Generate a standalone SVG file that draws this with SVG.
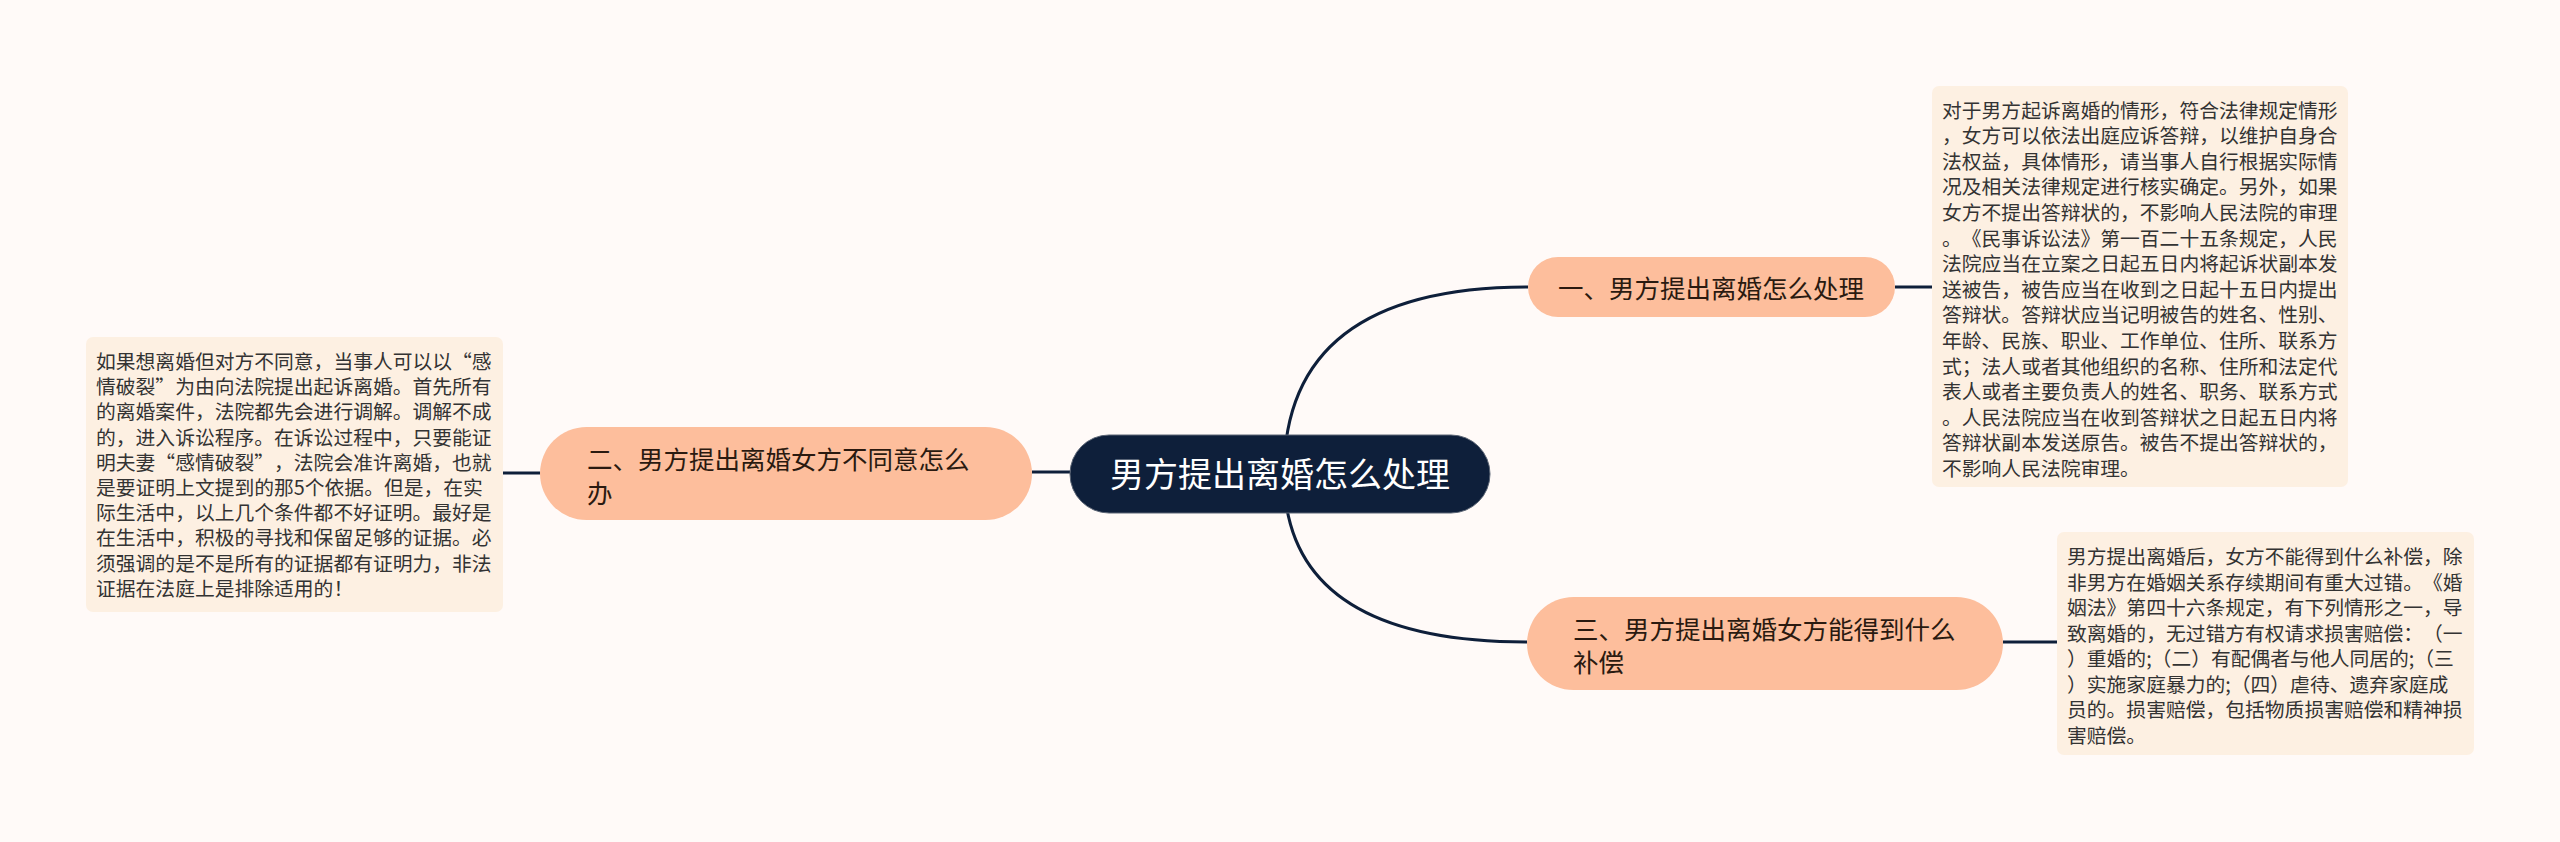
<svg xmlns="http://www.w3.org/2000/svg" width="2560" height="842" viewBox="0 0 2560 842">
<style>
text{text-spacing-trim:space-all}
.bg{fill:#fffaf8}
.conn{fill:none;stroke:#0e1f3a;stroke-width:3}
.root{fill:#0e1f3a;stroke:#5a6474;stroke-width:1}
.rootText{font-family:"Noto Sans CJK SC","Noto Sans",sans-serif;font-size:34px;fill:#ffffff}
.branch{fill:#fdbe9c}
.branchText{font-family:"Noto Sans CJK SC","Noto Sans",sans-serif;font-size:25.5px;fill:#2a1a10}
.note{fill:#fdf0e2}
.noteText{font-family:"Noto Sans CJK SC","Noto Sans",sans-serif;font-size:19.8px;fill:#333333}
</style>
<rect class="bg" x="0" y="0" width="2560" height="842"/>
<g id="connectors">
<path class="conn" d="M1284,474 Q1284,287 1528,287"/>
<path class="conn" d="M1284,474 Q1284,642 1527,642"/>
<path class="conn" d="M1070,472 L1032,472"/>
<path class="conn" d="M540,473 L503,473"/>
<path class="conn" d="M1895,287 L1932,287"/>
<path class="conn" d="M2003,642 L2057,642"/>
</g>
<g id="root">
<rect class="root" x="1070" y="435" width="420" height="78" rx="39"/>
<text class="rootText" x="1280" y="487" text-anchor="middle">男方提出离婚怎么处理</text>
</g>
<g id="branch1">
<rect class="branch" x="1528" y="257" width="367" height="60" rx="30"/>
<text class="branchText" x="1711" y="298" text-anchor="middle">一、男方提出离婚怎么处理</text>
</g>
<g id="branch2">
<rect class="branch" x="540" y="427" width="492" height="93" rx="46.5"/>
<text class="branchText" x="587" y="469">二、男方提出离婚女方不同意怎么</text>
<text class="branchText" x="587" y="503">办</text>
</g>
<g id="branch3">
<rect class="branch" x="1527" y="597" width="476" height="93" rx="46.5"/>
<text class="branchText" x="1573" y="639">三、男方提出离婚女方能得到什么</text>
<text class="branchText" x="1573" y="672">补偿</text>
</g>
<g id="note1">
<rect class="note" x="1932" y="86" width="416" height="401" rx="7"/>
<text class="noteText" x="1942" y="117.5">
<tspan x="1942" dy="0">对于男方起诉离婚的情形，符合法律规定情形</tspan>
<tspan x="1942" dy="25.6">，女方可以依法出庭应诉答辩，以维护自身合</tspan>
<tspan x="1942" dy="25.6">法权益，具体情形，请当事人自行根据实际情</tspan>
<tspan x="1942" dy="25.6">况及相关法律规定进行核实确定。另外，如果</tspan>
<tspan x="1942" dy="25.6">女方不提出答辩状的，不影响人民法院的审理</tspan>
<tspan x="1942" dy="25.6">。《民事诉讼法》第一百二十五条规定，人民</tspan>
<tspan x="1942" dy="25.6">法院应当在立案之日起五日内将起诉状副本发</tspan>
<tspan x="1942" dy="25.6">送被告，被告应当在收到之日起十五日内提出</tspan>
<tspan x="1942" dy="25.6">答辩状。答辩状应当记明被告的姓名、性别、</tspan>
<tspan x="1942" dy="25.6">年龄、民族、职业、工作单位、住所、联系方</tspan>
<tspan x="1942" dy="25.6">式；法人或者其他组织的名称、住所和法定代</tspan>
<tspan x="1942" dy="25.6">表人或者主要负责人的姓名、职务、联系方式</tspan>
<tspan x="1942" dy="25.6">。人民法院应当在收到答辩状之日起五日内将</tspan>
<tspan x="1942" dy="25.6">答辩状副本发送原告。被告不提出答辩状的，</tspan>
<tspan x="1942" dy="25.6">不影响人民法院审理。</tspan>
</text>
</g>
<g id="note2">
<rect class="note" x="86" y="337" width="417" height="275" rx="7"/>
<text class="noteText" x="96" y="369">
<tspan x="96" dy="0">如果想离婚但对方不同意，当事人可以以“感</tspan>
<tspan x="96" dy="25.2">情破裂”为由向法院提出起诉离婚。首先所有</tspan>
<tspan x="96" dy="25.2">的离婚案件，法院都先会进行调解。调解不成</tspan>
<tspan x="96" dy="25.2">的，进入诉讼程序。在诉讼过程中，只要能证</tspan>
<tspan x="96" dy="25.2">明夫妻“感情破裂”，法院会准许离婚，也就</tspan>
<tspan x="96" dy="25.2">是要证明上文提到的那5个依据。但是，在实</tspan>
<tspan x="96" dy="25.2">际生活中，以上几个条件都不好证明。最好是</tspan>
<tspan x="96" dy="25.2">在生活中，积极的寻找和保留足够的证据。必</tspan>
<tspan x="96" dy="25.2">须强调的是不是所有的证据都有证明力，非法</tspan>
<tspan x="96" dy="25.2">证据在法庭上是排除适用的！</tspan>
</text>
</g>
<g id="note3">
<rect class="note" x="2057" y="532" width="417" height="223" rx="7"/>
<text class="noteText" x="2067" y="564">
<tspan x="2067" dy="0">男方提出离婚后，女方不能得到什么补偿，除</tspan>
<tspan x="2067" dy="25.5">非男方在婚姻关系存续期间有重大过错。《婚</tspan>
<tspan x="2067" dy="25.5">姻法》第四十六条规定，有下列情形之一，导</tspan>
<tspan x="2067" dy="25.5">致离婚的，无过错方有权请求损害赔偿：（一</tspan>
<tspan x="2067" dy="25.5">）重婚的;（二）有配偶者与他人同居的;（三</tspan>
<tspan x="2067" dy="25.5">）实施家庭暴力的;（四）虐待、遗弃家庭成</tspan>
<tspan x="2067" dy="25.5">员的。损害赔偿，包括物质损害赔偿和精神损</tspan>
<tspan x="2067" dy="25.5">害赔偿。</tspan>
</text>
</g>
</svg>
